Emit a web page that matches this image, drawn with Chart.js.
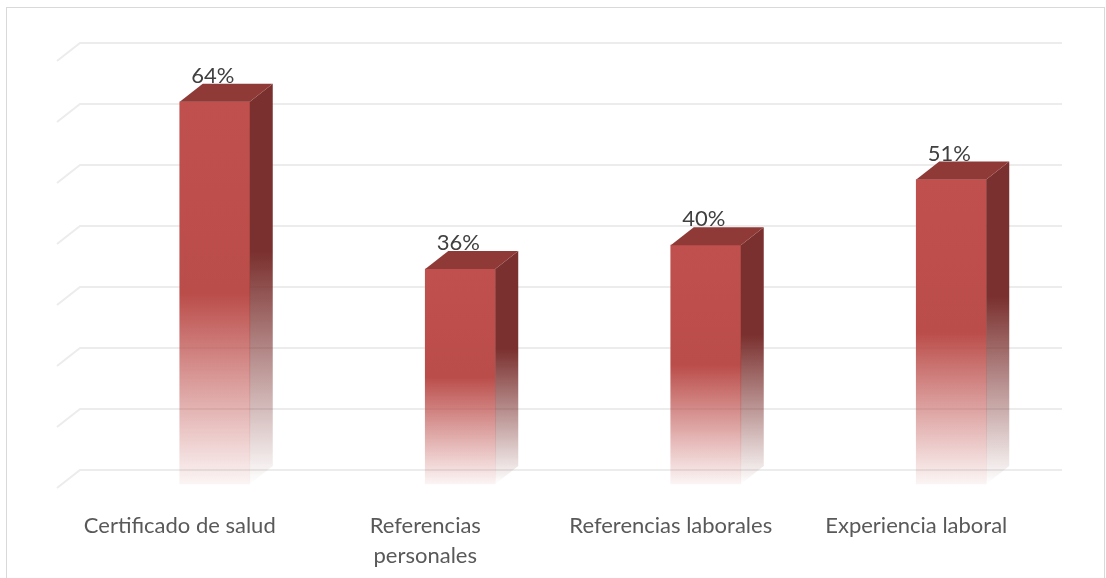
<!DOCTYPE html>
<html>
<head>
<meta charset="utf-8">
<script src="https://cdn.jsdelivr.net/npm/chart.js@4.4.0/dist/chart.umd.min.js"></script>
<style>
  html, body { margin: 0; padding: 0; background: #ffffff; }
  #wrap { position: relative; width: 1106px; height: 578px; }
</style>
</head>
<body>
<div id="wrap"><canvas id="c" width="1106" height="578"></canvas></div>
<script>
// ---- data ----
const categories = [
  "Certificado de salud",
  ["Referencias", "personales"],
  "Referencias laborales",
  "Experiencia laboral"
];
const values = [64, 36, 40, 51];
const valueLabels = ["64%", "36%", "40%", "51%"];
const gridTicks = [0, 10, 20, 30, 40, 50, 60, 70];

// ---- style / layout ----
const DEPTH_X = 23, DEPTH_Y = 18;
const BAR_W = 70;
const FRONT = "rgb(192,80,77)";
const SIDE = "rgb(122,48,46)";
const TOP = "rgb(143,58,55)";

const threeD = {
  id: "threeD",
  beforeDraw(chart) {
    const ctx = chart.ctx;
    ctx.save();
    ctx.strokeStyle = "#d9d9d9";
    ctx.lineWidth = 1;
    ctx.strokeRect(6.5, 7.5, 1098, 620);
    ctx.restore();
  },
  beforeDatasetsDraw(chart) {
    const ctx = chart.ctx, area = chart.chartArea, yw = chart.scales.yw;
    ctx.save();
    ctx.strokeStyle = "#ececec";
    ctx.lineWidth = 2;
    gridTicks.forEach(v => {
      const yb = Math.round(yw.getPixelForValue(v));
      ctx.beginPath();
      ctx.moveTo(area.left, yb + DEPTH_Y);
      ctx.lineTo(area.left + DEPTH_X, yb);
      ctx.lineTo(area.right + DEPTH_X, yb);
      ctx.stroke();
    });
    ctx.restore();
    ctx.save();
    ctx.translate(BAR_W / 2, 0);
  },
  afterDatasetsDraw(chart) {
    const ctx = chart.ctx;
    const meta = chart.getDatasetMeta(0);
    meta.data.forEach((bar, i) => {
      const p = bar.getProps(["x", "y", "base", "width"], true);
      const l = p.x - p.width / 2, r = p.x + p.width / 2, t = p.y, b = p.base;
      // side face
      const gs = ctx.createLinearGradient(0, t - DEPTH_Y, 0, b);
      gs.addColorStop(0, SIDE);
      gs.addColorStop(0.42, SIDE);
      gs.addColorStop(1, "rgba(122,48,46,0)");
      ctx.fillStyle = gs;
      ctx.beginPath();
      ctx.moveTo(r, t);
      ctx.lineTo(r + DEPTH_X, t - DEPTH_Y);
      ctx.lineTo(r + DEPTH_X, b - DEPTH_Y);
      ctx.lineTo(r, b);
      ctx.closePath();
      ctx.fill();
      // top face
      ctx.fillStyle = TOP;
      ctx.beginPath();
      ctx.moveTo(l, t);
      ctx.lineTo(l + DEPTH_X, t - DEPTH_Y);
      ctx.lineTo(r + DEPTH_X, t - DEPTH_Y);
      ctx.lineTo(r, t);
      ctx.closePath();
      ctx.fill();
      // value label
      ctx.fillStyle = "#404040";
      ctx.font = "22px Lato, 'Open Sans', sans-serif";
      ctx.textAlign = "center";
      ctx.textBaseline = "middle";
      ctx.fillText(valueLabels[i], p.x - 2, t - 26);
    });
    ctx.restore();
  }
};

const ctx = document.getElementById("c").getContext("2d");
new Chart(ctx, {
  type: "bar",
  data: {
    labels: categories,
    datasets: [{
      data: values,
      barThickness: BAR_W,
      borderWidth: 0,
      backgroundColor: (c) => {
        const chart = c.chart;
        if (!chart.chartArea || c.dataIndex === undefined) return FRONT;
        const y = chart.scales.y;
        const t = y.getPixelForValue(values[c.dataIndex]);
        const b = y.getPixelForValue(0);
        const g = chart.ctx.createLinearGradient(0, t, 0, b);
        g.addColorStop(0, FRONT);
        g.addColorStop(0.5, "rgb(186,76,73)");
        g.addColorStop(1, "rgba(192,80,77,0.06)");
        return g;
      }
    }]
  },
  options: {
    responsive: false,
    animation: false,
    events: [],
    clip: false,
    layout: { padding: { top: 66, left: 57, right: 67, bottom: 0 } },
    plugins: { legend: { display: false }, tooltip: { enabled: false } },
    scales: {
      x: {
        grid: { display: false },
        border: { display: false },
        ticks: {
          color: "#595959",
          font: { family: "Lato, 'Open Sans', sans-serif", size: 22, lineHeight: 1.36 },
          padding: 19,
          maxRotation: 0,
          autoSkip: false
        },
        afterFit(scale) { scale.height = 94; }
      },
      y: { display: false, min: 0, max: 70 },
      yw: { display: false, min: -2.3, max: 66.2 }
    }
  },
  plugins: [threeD]
});
</script>
</body>
</html>
